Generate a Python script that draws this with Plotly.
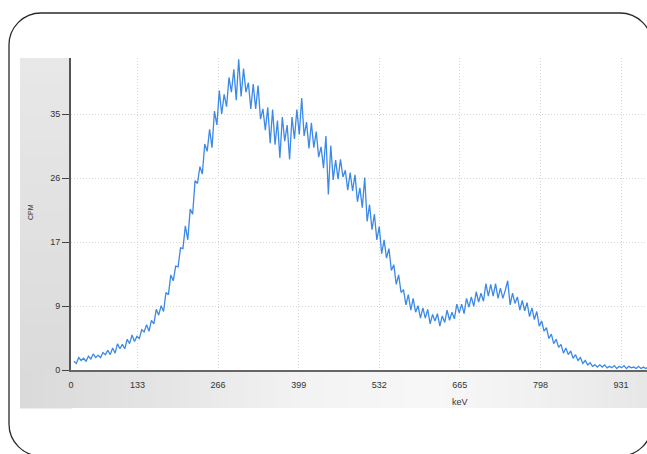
import plotly.graph_objects as go

# ---------------- data ----------------
# spectrum sampled every 4 keV; each segment = (first keV, counts)
KEV_STEP = 4
seg_low_tail = (28, [1.2, 0.9, 1.7, 1.3, 1.6, 1.2, 1.9, 1.5, 2.2, 1.7, 2.0, 1.7, 2.4, 2.1, 2.7, 2.1])
seg_rise_a = (92, [3.0, 2.3, 3.6, 2.9, 3.5, 2.9, 4.2, 3.6, 4.8, 3.9, 4.6, 4.3, 5.5, 5.2, 6.2, 5.3, 6.8, 6.3])
seg_rise_b = (164, [8.3, 7.5, 8.8, 8.0, 10.6, 10.3, 13.0, 12.2, 14.2, 14.1, 16.7, 16.6])
seg_rise_c = (212, [19.7, 17.8, 22.0, 21.3, 25.9, 25.5, 27.8, 26.8, 30.9, 29.9])
seg_peak = (252, [32.9, 30.4, 35.4, 33.5, 38.2, 35.0, 37.7, 36.0, 40.0, 38.0, 41.1, 36.9,
                  42.5, 37.4, 41.2, 38.0, 39.3, 35.7, 39.1, 35.7, 38.9, 34.3, 35.7, 32.8,
                  35.9, 31.0, 35.6, 30.8, 34.1, 29.0, 34.6, 31.3, 33.5, 28.8, 34.6, 31.6,
                  35.6, 32.2, 37.2, 32.0, 33.9, 30.3, 33.8, 30.4, 32.6, 29.1, 30.5, 27.6])
seg_fall_a = (444, [32.0, 24.0, 30.7, 26.0, 28.7, 26.1, 28.8, 26.4, 27.3, 24.6, 27.0, 24.5,
                    26.7, 23.0, 24.9, 22.2, 26.3, 20.3, 22.6, 19.2, 21.3, 17.8, 19.6, 15.9, 17.8])
seg_fall_b = (544, [15.3, 16.6, 13.6, 14.4, 11.7, 13.0, 10.6, 11.0, 8.9, 10.3, 8.2, 9.8, 7.9, 8.8, 7.1])
seg_bump = (604, [8.5, 7.1, 8.3, 6.3, 7.6, 6.7, 7.7, 6.0, 7.4, 6.5, 8.2, 6.8, 7.9, 7.0, 9.0, 7.8,
                  9.0, 7.7, 9.8, 8.6, 10.0, 8.7, 10.7, 9.3, 10.5, 9.4, 11.8, 10.1, 11.7, 10.1,
                  11.8, 9.8, 11.2, 9.8, 10.9, 12.2, 8.9, 10.5, 9.1, 10.0, 8.2, 9.5, 8.1, 9.2,
                  7.3, 8.5, 6.9, 8.0, 6.0, 6.7])
seg_edge = (804, [5.3, 5.8, 4.3, 4.9, 3.6, 4.2, 3.1, 3.5, 2.3, 3.0, 2.1, 2.6, 1.6, 2.1, 1.3, 1.7,
                  0.9, 1.3, 0.7, 1.0])
seg_tail = (884, [0.5, 0.7, 0.4, 0.7, 0.4, 0.7, 0.3, 0.5, 0.3, 0.6, 0.2, 0.5, 0.3, 0.6, 0.2, 0.5,
                  0.3, 0.4, 0.2, 0.5, 0.2, 0.4, 0.2, 0.4, 0.3])
segments = [seg_low_tail, seg_rise_a, seg_rise_b, seg_rise_c, seg_peak,
            seg_fall_a, seg_fall_b, seg_bump, seg_edge, seg_tail]

x_tick_vals = [23.25, 133, 266, 399, 532, 665, 798, 931]
x_tick_text = ["0", "133", "266", "399", "532", "665", "798", "931"]
y_tick_vals = [0, 8.75, 17.5, 26.25, 35]
y_tick_text = ["0", "9", "17", "26", "35"]

kev, cpm = [], []
for start, vals in segments:
    for i, v in enumerate(vals):
        kev.append(start + KEV_STEP * i)
        cpm.append(v)

# ---------------- layout geometry (pixels) ----------------
W, H = 647, 454
PL, PR, PT, PB = 71, 647, 58, 370  # plot area


def px(x):
    return (x - PL) / (PR - PL)


def py(y):
    return (PB - y) / (PB - PT)


shapes = []
# grey gradient panel: left strip (vertical gradient)
n = 25
top, bot = 58, 408
for i in range(n):
    y0 = top + (bot - top) * i / n
    y1 = top + (bot - top) * (i + 1) / n
    t = i / (n - 1)
    c = int(232 - 14 * t)
    shapes.append(dict(type="rect", xref="paper", yref="paper", layer="below",
                       x0=px(20), x1=px(72), y0=py(y0), y1=py(y1 + 0.6),
                       fillcolor=f"rgb({c},{c},{c})", line_width=0))
# bottom strip (horizontal gradient)
stops = [(20, 218), (150, 228), (300, 243), (430, 248), (540, 241), (647, 231)]


def grey_at(x):
    for (xa, ca), (xb, cb) in zip(stops, stops[1:]):
        if xa <= x <= xb:
            return ca + (cb - ca) * (x - xa) / (xb - xa)
    return stops[-1][1]


step = 6
x = 20
while x < 647:
    c = int(grey_at(x + step / 2))
    shapes.append(dict(type="rect", xref="paper", yref="paper", layer="below",
                       x0=px(x), x1=px(x + step + 0.6), y0=py(370), y1=py(408),
                       fillcolor=f"rgb({c},{c},{c})", line_width=0))
    x += step
# white plot area
shapes.append(dict(type="rect", xref="paper", yref="paper", layer="below",
                   x0=0, x1=1, y0=0, y1=1, fillcolor="white", line_width=0))

# outer rounded frame
L, T, R, B, r = 9, 13, 652, 456, 32
k = 0.5523 * r


def P(x, y):
    return f"{px(x):.5f},{py(y):.5f}"


path = (f"M {P(L + r, T)} L {P(R - r, T)} "
        f"C {P(R - r + k, T)} {P(R, T + r - k)} {P(R, T + r)} "
        f"L {P(R, B - r)} "
        f"C {P(R, B - r + k)} {P(R - r + k, B)} {P(R - r, B)} "
        f"L {P(L + r, B)} "
        f"C {P(L + r - k, B)} {P(L, B - r + k)} {P(L, B - r)} "
        f"L {P(L, T + r)} "
        f"C {P(L, T + r - k)} {P(L + r - k, T)} {P(L + r, T)} Z")
shapes.append(dict(type="path", xref="paper", yref="paper", layer="above",
                   path=path, line=dict(color="#2a2a2a", width=1.3)))

fig = go.Figure()
fig.add_trace(go.Scatter(x=kev, y=cpm, mode="lines",
                         line=dict(color="#3c89e8", width=1.3),
                         showlegend=False, hoverinfo="x+y"))

font = "Liberation Sans, Arial, sans-serif"
fig.update_layout(
    width=W, height=H,
    margin=dict(l=PL, r=W - PR, t=PT, b=H - PB),
    paper_bgcolor="white",
    plot_bgcolor="rgba(0,0,0,0)",
    shapes=shapes,
    font=dict(family=font, size=9, color="#333333"),
    xaxis=dict(range=[23.25, 973.9], tickvals=x_tick_vals, ticktext=x_tick_text,
               showgrid=True, gridcolor="#d6d6d6", griddash="1px,2px", gridwidth=1,
               zeroline=False, showline=True, linecolor="#666666", linewidth=2,
               ticks="", ticklabelstandoff=5,
               tickfont=dict(size=9, color="#333333")),
    yaxis=dict(range=[0, 42.66], tickvals=y_tick_vals, ticktext=y_tick_text,
               showgrid=True, gridcolor="#d6d6d6", griddash="1px,2px", gridwidth=1,
               zeroline=False, showline=True, linecolor="#555555", linewidth=2,
               ticks="outside", ticklen=7, tickcolor="#444444", tickwidth=1,
               tickfont=dict(size=9, color="#333333")),
    annotations=[
        dict(text="CPM", xref="paper", yref="paper", x=px(30), y=py(212),
             showarrow=False, textangle=-90, font=dict(size=7, color="#333333"),
             xanchor="center", yanchor="middle"),
        dict(text="keV", xref="paper", yref="paper", x=px(460), y=py(402),
             showarrow=False, font=dict(size=9, color="#333333"),
             xanchor="center", yanchor="middle"),
    ],
)

fig.write_html("out.html", config={"displayModeBar": False},
               post_script="document.body.style.margin='0';document.body.style.overflow='hidden';")
